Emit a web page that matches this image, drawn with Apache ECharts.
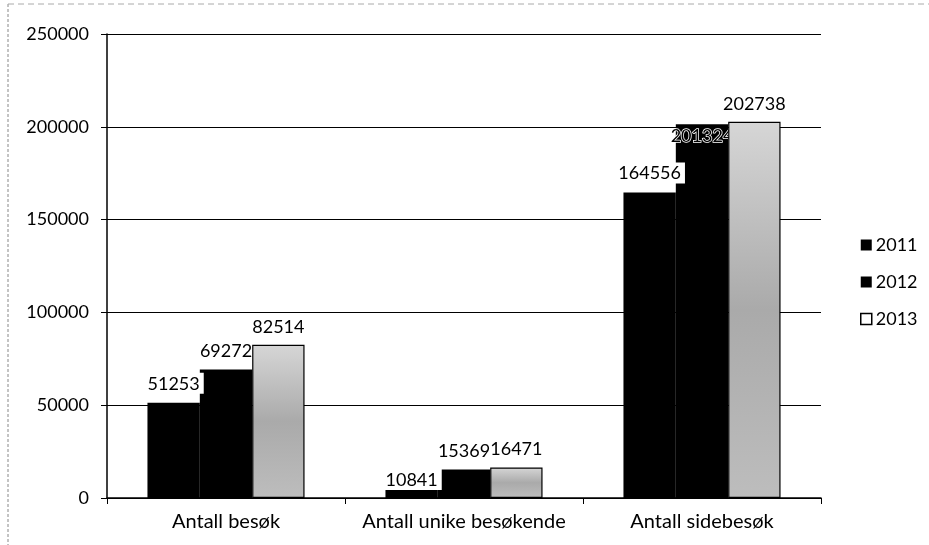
<!DOCTYPE html>
<html><head><meta charset="utf-8">
<script src="https://cdn.jsdelivr.net/npm/echarts@6/dist/echarts.min.js"></script>
<style>html,body{margin:0;padding:0;background:#fff}#c{width:929px;height:545px}</style>
</head><body><div id="c"></div>
<script>
const categories = ['Antall besøk', 'Antall unike besøkende', 'Antall sidebesøk'];
const seriesNames = ['2011', '2012', '2013'];
const v2011 = [51253, 10841, 164556];
const v2012 = [69272, 15369, 201324];
const v2013 = [82514, 16471, 202738];
const yTicks = [0, 50000, 100000, 150000, 200000, 250000];

const font = 'Lato';
const chart = echarts.init(document.getElementById('c'));
const lbl = (extra) => Object.assign({show: true, position: 'top', distance: 9, color: '#000', fontSize: 18, fontFamily: font}, extra || {});

const d2011 = v2011.map((v, i) => i === 1 ? {value: v, label: {offset: [0, 21]}} : v);
const d2012 = v2012.map((v, i) => i === 2 ? {value: v, label: {offset: [0, 30], textBorderColor: '#fff', textBorderWidth: 1.5}} : v);

chart.setOption({
  animation: false,
  backgroundColor: '#fff',
  grid: {left: 107, right: 108, top: 34, bottom: 47},
  legend: {
    orient: 'vertical', left: 855, top: 231, itemGap: 19,
    itemWidth: 11, itemHeight: 11, icon: 'rect',
    textStyle: {fontSize: 18, lineHeight: 18, color: '#000', fontFamily: font, padding: [0, 0, 0, -1]},
    data: [
      {name: '2011', itemStyle: {color: '#000'}},
      {name: '2012', itemStyle: {color: '#000'}},
      {name: '2013', itemStyle: {color: '#fff', borderColor: '#000', borderWidth: 1.5}}
    ]
  },
  xAxis: {
    type: 'category', data: categories,
    axisLine: {lineStyle: {color: '#000', width: 1.5}},
    axisTick: {show: true, length: 6, lineStyle: {color: '#000'}},
    axisLabel: {color: '#000', fontSize: 20, fontFamily: font, margin: 14, interval: 0, hideOverlap: false}
  },
  yAxis: {
    type: 'value', min: yTicks[0], max: yTicks[yTicks.length - 1], interval: 50000,
    axisLine: {show: true, lineStyle: {color: '#000', width: 1.5}},
    axisTick: {show: true, length: 6, lineStyle: {color: '#000'}},
    axisLabel: {color: '#000', fontSize: 18, fontFamily: font, margin: 18, formatter: v => String(v)},
    splitLine: {lineStyle: {color: '#000', width: 1.2}}
  },
  series: [
    {name: seriesNames[0], type: 'bar', data: d2011, barGap: '0%', barCategoryGap: '34%',
     itemStyle: {color: '#000'},
     label: lbl({backgroundColor: '#fff', padding: [2, 4, 1, 4]}), z: 5},
    {name: seriesNames[1], type: 'bar', data: d2012,
     itemStyle: {color: '#000'},
     label: lbl(), z: 2},
    {name: seriesNames[2], type: 'bar', data: v2013,
     itemStyle: {
       color: {type: 'linear', x: 0, y: 0, x2: 0, y2: 1, colorStops: [
         {offset: 0, color: '#d6d6d6'}, {offset: 0.5, color: '#aaaaaa'}, {offset: 1, color: '#bdbdbd'}]},
       borderColor: '#000', borderWidth: 1.2},
     label: lbl(), z: 4}
  ],
  graphic: [
    {type: 'line', shape: {x1: 8, y1: 4, x2: 8, y2: 545}, style: {stroke: '#888', lineWidth: 1, lineDash: [3, 2]}},
    {type: 'line', shape: {x1: 8, y1: 4, x2: 929, y2: 4}, style: {stroke: '#aaa', lineWidth: 1, lineDash: [6, 4]}}
  ]
});
</script></body></html>
